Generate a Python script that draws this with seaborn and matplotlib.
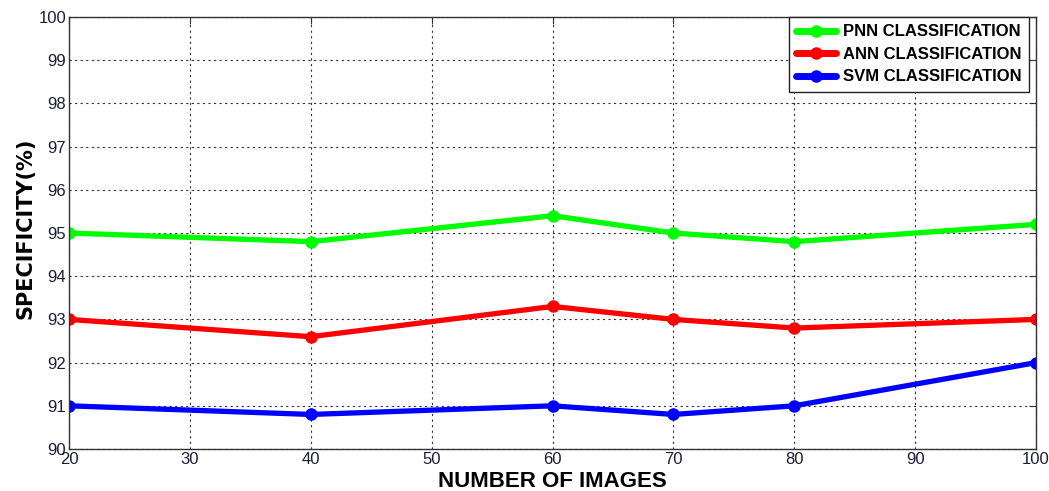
import matplotlib
matplotlib.use("Agg")
import matplotlib.pyplot as plt
import seaborn as sns
import pandas as pd

# Number of images used in each experiment
num_images = [20, 40, 60, 70, 80, 100]

# Specificity (%) per classifier
pnn_spec = [95.0, 94.8, 95.4, 95.0, 94.8, 95.2]
ann_spec = [93.0, 92.6, 93.3, 93.0, 92.8, 93.0]
svm_spec = [91.0, 90.8, 91.0, 90.8, 91.0, 92.0]

series_names = ["PNN CLASSIFICATION", "ANN CLASSIFICATION", "SVM CLASSIFICATION"]
series_colors = ["#00ff00", "#ff0000", "#0000ff"]

x_ticks = list(range(20, 101, 10))
y_ticks = list(range(90, 101, 1))

df = pd.DataFrame({
    "images": num_images * 3,
    "spec": pnn_spec + ann_spec + svm_spec,
    "method": [series_names[0]] * len(num_images)
    + [series_names[1]] * len(num_images)
    + [series_names[2]] * len(num_images),
})

sns.set_style("white")
plt.rcParams["font.family"] = ["Liberation Sans", "DejaVu Sans"]

fig = plt.figure(figsize=(10.49, 4.91), dpi=100)
ax = fig.add_axes([0.0658, 0.0855, 0.9218, 0.8799])

sns.lineplot(
    data=df, x="images", y="spec", hue="method",
    palette=dict(zip(series_names, series_colors)),
    marker="o", markersize=9, markeredgewidth=0, linewidth=3.8,
    ax=ax, legend=True,
)

ax.set_xlim(20, 100)
ax.set_ylim(90, 100)
ax.set_xticks(x_ticks)
ax.set_yticks(y_ticks)
ax.tick_params(axis="both", direction="in", length=5, color="#333333",
               labelsize=12, labelcolor="#1c1c38", top=True, right=True, pad=2)
ax.grid(True, color="#333333", linestyle=(0, (2, 3)), linewidth=0.8)
for s in ax.spines.values():
    s.set_color("#333333")
    s.set_linewidth(1.0)
    s.set_visible(True)

ax.set_xlabel("NUMBER OF IMAGES", fontsize=16, fontweight="bold", color="black", labelpad=3)
ax.set_ylabel("SPECIFICITY(%)", fontsize=15, fontweight="bold", color="black",
              family=["DejaVu Sans"])
ax.yaxis.set_label_coords(-0.035, 0.51)

handles, labels = ax.get_legend_handles_labels()
leg = ax.legend(handles, labels, loc="upper right", frameon=True, fancybox=False,
                edgecolor="#222222", framealpha=1, handlelength=2.4,
                borderpad=0.45, labelspacing=0.45, handletextpad=0.4,
                borderaxespad=0,
                prop={"family": ["Liberation Sans", "DejaVu Sans"], "weight": "bold", "size": 12},
                bbox_to_anchor=(0.9928, 1.0))
leg.get_frame().set_linewidth(1.0)
for line in leg.get_lines():
    line.set_linewidth(5)
    line.set_markersize(9)
for t in leg.get_texts():
    t.set_color("black")

fig.savefig("out.png", dpi=100)
